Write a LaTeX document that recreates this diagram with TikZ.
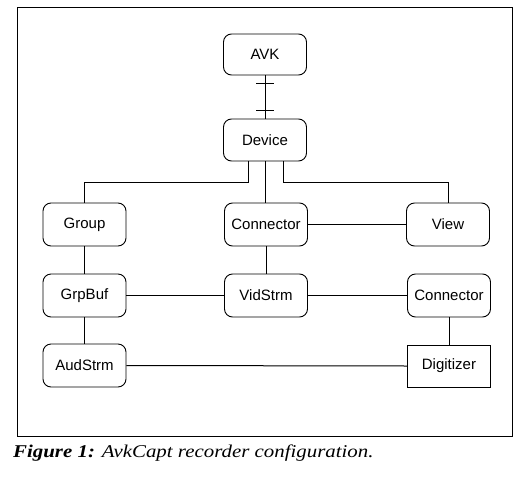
\documentclass[tikz,border=0pt]{standalone}
\usepackage{fontspec}
\setmainfont{Liberation Serif}
\setsansfont{Liberation Sans}
\usetikzlibrary{decorations.markings}
\begin{document}
\begin{tikzpicture}[x=1pt,y=-1pt,
  box/.style={draw,line width=0.9pt,rounded corners=8pt,minimum width=83pt,minimum height=43pt,inner sep=0pt,font=\sffamily\fontsize{15}{18}\selectfont},
  sqbox/.style={box,rounded corners=0pt},
  link/.style={draw,line width=1pt},
  ticked/.style={postaction={decorate},decoration={markings,
    mark=at position 8pt with {\draw[line width=0.9pt] (0,-9pt) -- (0,9pt);},
    mark=at position -8pt with {\draw[line width=0.9pt] (0,-9pt) -- (0,9pt);}}}
]
\useasboundingbox (0,0) rectangle (520,480);
\draw[line width=1pt] (17,7) rectangle (512,436);
\node[box,minimum height=41pt] (avk) at (265,54.5) {AVK};
\node[box,minimum height=42pt] (dev) at (265,140) {Device};
\node[box] (grp) at (84.5,224.5) {Group};
\node[box] (con1) at (266,224.5) {Connector};
\node[box] (view) at (448,224.5) {View};
\node[box] (gbuf) at (84.5,295.5) {GrpBuf};
\node[box] (vid) at (266,295.5) {VidStrm};
\node[box] (con2) at (449,295.5) {Connector};
\node[box] (aud) at (84.5,365.5) {AudStrm};
\node[sqbox,minimum height=42pt] (dig) at (449,366) {Digitizer};
\draw[link,ticked] (avk.south) -- (dev.north);
\draw[link] ([xshift=-17pt]dev.south) -- ++(0,21) -| (grp.north);
\draw[link] ([xshift=18pt]dev.south) -- ++(0,21) -| (view.north);
\draw[link] (dev.south) -- (dev.south |- con1.north);
\draw[link] (con1.east) -- (view.west);
\draw[link] (con1.south) -- (vid.north);
\draw[link] (grp.south) -- (gbuf.north);
\draw[link] (gbuf.south) -- (aud.north);
\draw[link] (gbuf.east) -- (vid.west);
\draw[link] (vid.east) -- (con2.west);
\draw[link] (con2.south) -- (dig.north);
\draw[link] (aud.east) -- (dig.west);
\node[anchor=base west,inner sep=0pt,font=\fontsize{18}{21}\selectfont] (cap) at (13,457) {\scalebox{1.16}[1]{\textbf{\textit{Figure 1:}} \textit{AvkCapt recorder configuration.}}};
\end{tikzpicture}
\end{document}
